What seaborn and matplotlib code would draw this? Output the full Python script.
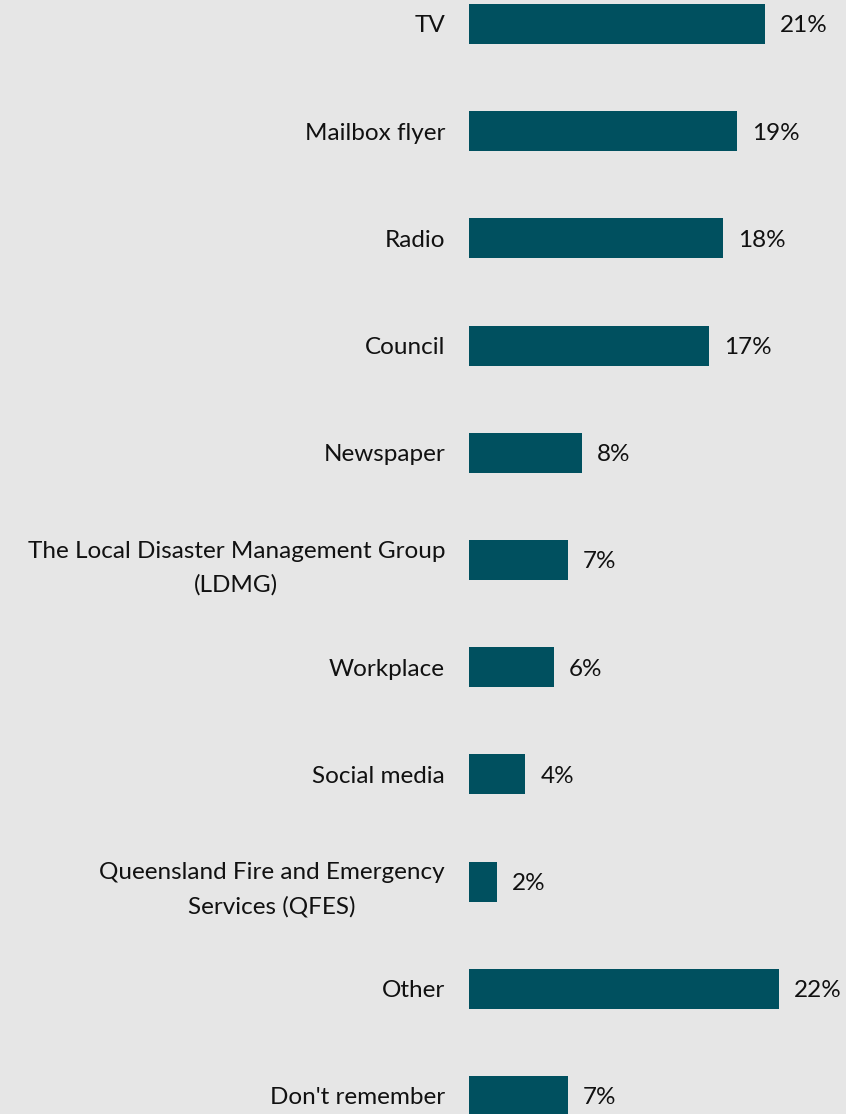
import matplotlib
matplotlib.use("Agg")
import matplotlib.pyplot as plt
import seaborn as sns
import pandas as pd

categories = [
    "TV",
    "Mailbox flyer",
    "Radio",
    "Council",
    "Newspaper",
    "The Local Disaster Management Group\n(LDMG)",
    "Workplace",
    "Social media",
    "Queensland Fire and Emergency\nServices (QFES)",
    "Other",
    "Don't remember",
]
values = [21, 19, 18, 17, 8, 7, 6, 4, 2, 22, 7]

BG = "#E6E6E6"
BAR = "#00505F"
FS = 17.5

sns.set_theme(style="white")
plt.rcParams["font.family"] = ["Lato", "DejaVu Sans"]

df = pd.DataFrame({"source": categories, "pct": values})

W, H, DPI = 846, 1114, 100
fig = plt.figure(figsize=(W / DPI, H / DPI), dpi=DPI, facecolor=BG)
left_px = 469
ax = fig.add_axes([left_px / W, 0, (W - left_px) / W, 1])
ax.set_facecolor(BG)

sns.barplot(data=df, x="pct", y="source", orient="h", color=BAR,
            width=0.373, saturation=1, linewidth=0, ax=ax)

px_per_pct = 14.1
ax.set_xlim(0, (W - left_px) / px_per_pct)
slot = 107.2
ax.set_ylim(10 + (H - 1096) / slot, -24 / slot)

for p, v in zip(ax.patches, values):
    ax.text(p.get_width() + 15 / px_per_pct, p.get_y() + p.get_height() / 2,
            f"{v}%", va="center_baseline", ha="left", fontsize=FS,
            color="#111111")

ax.set_xlabel("")
ax.set_ylabel("")
ax.set_xticks([])
ax.tick_params(axis="y", length=0, pad=24 * 72 / DPI, labelsize=FS,
               labelcolor="#111111")
for lbl in ax.get_yticklabels():
    lbl.set_multialignment("center")
    lbl.set_linespacing(1.7)
sns.despine(ax=ax, left=True, bottom=True)

fig.savefig("out.png", dpi=DPI, facecolor=BG)
